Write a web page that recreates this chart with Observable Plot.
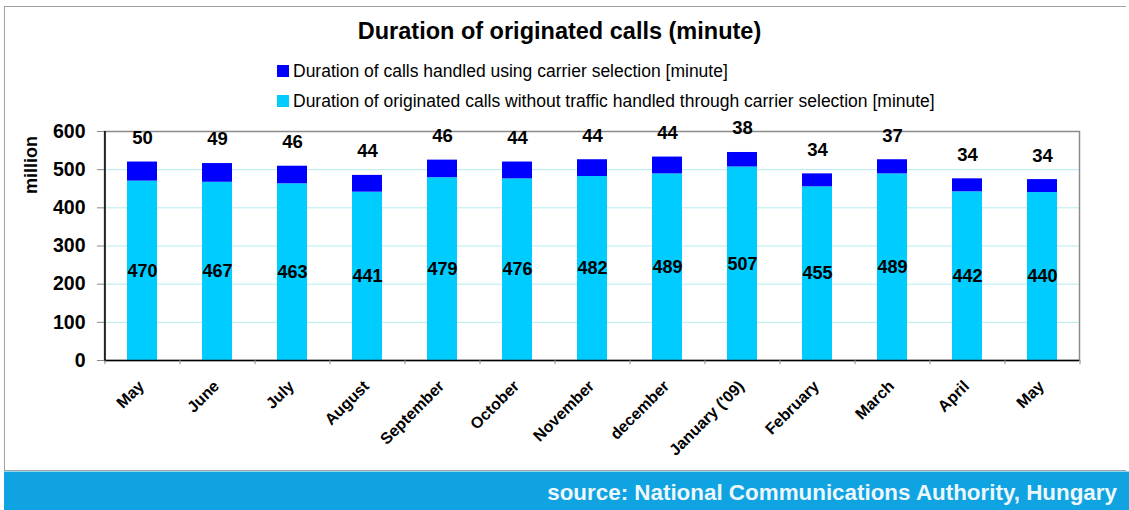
<!DOCTYPE html>
<html>
<head>
<meta charset="utf-8">
<script src="https://cdn.jsdelivr.net/npm/d3@7"></script>
<script src="https://cdn.jsdelivr.net/npm/@observablehq/plot@0.6"></script>
<style>
  html, body { margin: 0; padding: 0; background: #fff; }
  body { width: 1129px; height: 510px; position: relative; overflow: hidden; font-family: "Liberation Sans", Arial, sans-serif; }
  #border { position: absolute; left: 4px; top: 6px; width: 1122px; height: 465px; border: 1px solid #a0a0a0; border-right: none; box-sizing: border-box; }
  #chart { position: absolute; left: 0; top: 0; }
  #title { position: absolute; left: 0; width: 1119px; top: 18px; text-align: center; font-weight: bold; font-size: 23.5px; color: #000; }
  .leg { position: absolute; left: 277px; font-size: 17.5px; color: #000; white-space: nowrap; }
  .leg span.sw { display: inline-block; width: 12px; height: 12px; margin-right: 4px; vertical-align: 0px; }
  #ylab { position: absolute; left: 31px; top: 165px; transform: translate(-50%, -50%) rotate(-90deg); font-weight: bold; font-size: 18px; }
  #footer { position: absolute; left: 4px; top: 471px; width: 1125px; height: 39px; background: #10a3e1; border-top: 1px solid #8fd8f2; box-sizing: border-box; }
  #footer div { position: absolute; right: 12px; top: 8px; color: #eef8fc; font-weight: bold; font-size: 22.4px; }
</style>
</head>
<body>
<div id="border"></div>
<div id="chart"></div>
<div id="title">Duration of originated calls (minute)</div>
<div id="leg1" class="leg" style="top:61px"><span class="sw" style="background:#0000ff"></span>Duration of calls handled using carrier selection [minute]</div>
<div id="leg2" class="leg" style="top:91px"><span class="sw" style="background:#00ccff"></span>Duration of originated calls without traffic handled through carrier selection [minute]</div>
<div id="ylab">million</div>
<div id="footer"><div>source: National Communications Authority, Hungary</div></div>
<script>
const months = ["May","June","July","August","September","October","November","december","January ('09)","February","March","April","May"];
const carrierSelection = [50,49,46,44,46,44,44,44,38,34,37,34,34];
const withoutCarrier = [470,467,463,441,479,476,482,489,507,455,489,442,440];
const yTicks = [0,100,200,300,400,500,600];
const gridTicks = [100,200,300,400,500];

const seriesNames = ["Duration of originated calls without traffic handled through carrier selection [minute]", "Duration of calls handled using carrier selection [minute]"];
const colors = ["#00ccff", "#0000ff"];

const idx = months.map((_, i) => i);
const rows = [];
idx.forEach(i => {
  rows.push({i, series: seriesNames[0], value: withoutCarrier[i]});
  rows.push({i, series: seriesNames[1], value: carrierSelection[i]});
});

const W = 1129, H = 470, ML = 104, MR = 50, MT = 131, MB = 110;
const step = (W - ML - MR) / months.length;

const chart = Plot.plot({
  width: W, height: H,
  marginLeft: ML, marginRight: MR, marginTop: MT, marginBottom: MB,
  style: {fontFamily: "'Liberation Sans', Arial, sans-serif", background: "transparent", overflow: "visible"},
  x: {type: "band", domain: idx, paddingInner: 0.6, paddingOuter: 0.3, label: null},
  y: {domain: [0, 600], label: null},
  color: {domain: seriesNames, range: colors},
  marks: [
    Plot.ruleY(gridTicks, {stroke: "#b4ecf2", strokeWidth: 1}),
    Plot.frame({stroke: "#8c8c8c", strokeWidth: 1.5}),
    Plot.barY(rows, {x: "i", y: "value", fill: "series", order: seriesNames}),
    Plot.ruleY([0], {stroke: "#000", strokeWidth: 1.5}),
    Plot.ruleX([0], {x: d => d, y1: 0, y2: 600, dx: -step / 2, stroke: "#000", strokeWidth: 1.5}),
    Plot.ruleX(idx, {x: d => d, y1: 0, y2: -11, dx: -step / 2, stroke: "#888", strokeWidth: 1}),
    Plot.ruleX([idx[idx.length - 1]], {x: d => d, y1: 0, y2: -11, dx: step / 2, stroke: "#888", strokeWidth: 1}),
    Plot.axisY({ticks: yTicks, tickSize: 7, tickPadding: 12, stroke: "#888", fontSize: 19.5, fontWeight: "bold", tickFormat: d => d}),
    Plot.axisX({tickSize: 0, tickPadding: 0, tickRotate: -45, fontSize: 16, fontWeight: "bold", tickFormat: i => months[i], dy: 23, dx: -1}),
    Plot.text(idx, {x: d => d, y: d => withoutCarrier[d] / 2, text: d => String(withoutCarrier[d]), fontSize: 18, fontWeight: "bold", fill: "#000"}),
    Plot.text(idx, {x: d => d, y: d => withoutCarrier[d] + carrierSelection[d], text: d => String(carrierSelection[d]), dy: -24, fontSize: 18.5, fontWeight: "bold", fill: "#000"})
  ]
});
document.getElementById("chart").appendChild(chart);
</script>
</body>
</html>
